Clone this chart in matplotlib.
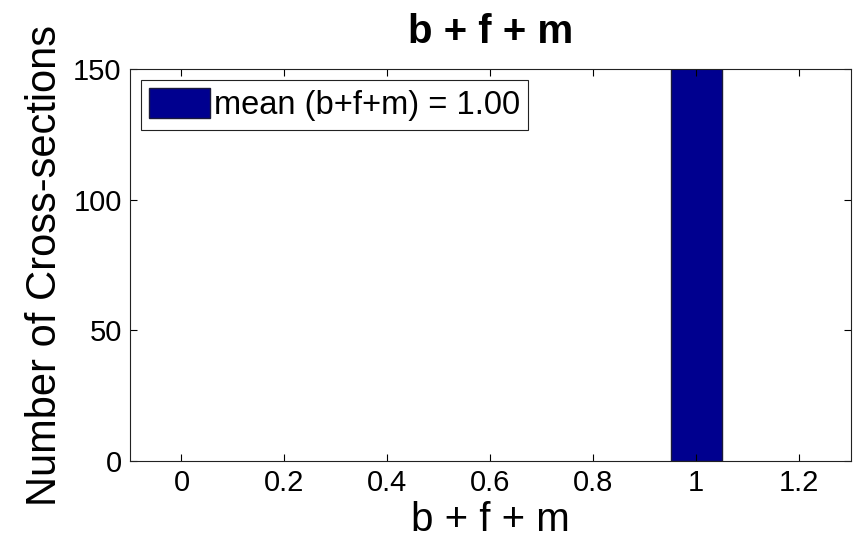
"""MATLAB-style histogram of b + f + m per cross-section (all sums equal 1)."""

import matplotlib

matplotlib.use("Agg")
import matplotlib.pyplot as plt

# ---- data ---------------------------------------------------------------
bin_centers = [1.0]
bin_counts = [152]  # bar runs past the 150 axis limit
bin_width = 0.1
mean_value = 1.00

x_ticks = [0, 0.2, 0.4, 0.6, 0.8, 1.0, 1.2]
x_tick_labels = ["0", "0.2", "0.4", "0.6", "0.8", "1", "1.2"]
y_ticks = [0, 50, 100, 150]

BAR_COLOR = "#00008f"
EDGE_COLOR = "#1a1a3a"

plt.rcParams["font.family"] = ["Liberation Sans", "DejaVu Sans"]

fig = plt.figure(figsize=(8.61, 5.44), dpi=100)
ax = fig.add_axes([0.151, 0.1526, 0.837, 0.7204])

ax.bar(
    bin_centers,
    bin_counts,
    width=bin_width,
    color=BAR_COLOR,
    edgecolor=EDGE_COLOR,
    linewidth=1.0,
    label=f"mean (b+f+m) = {mean_value:.2f}",
)

ax.set_xlim(-0.1, 1.3)
ax.set_ylim(0, 150)
ax.set_xticks(x_ticks)
ax.set_xticklabels(x_tick_labels)
ax.set_yticks(y_ticks)
ax.tick_params(
    direction="in", top=True, right=True, length=5, width=0.8,
    labelsize=21, pad=6,
)
for spine in ax.spines.values():
    spine.set_linewidth(0.8)
    spine.set_color("#222222")

ax.set_xlabel("b + f + m", fontsize=29, labelpad=3)
ax.set_ylabel("Number of Cross-sections", fontsize=30, labelpad=6)
ax.set_title("b + f + m", fontsize=29, fontweight="bold", pad=19)

leg = ax.legend(
    loc="upper left",
    fontsize=23.5,
    fancybox=False,
    framealpha=1,
    edgecolor="#222222",
    handlelength=1.85,
    handleheight=1.0,
    handletextpad=0.12,
    borderpad=0.26,
    borderaxespad=0.33,
)
leg.get_frame().set_linewidth(0.8)

fig.savefig("out.png", dpi=100)
